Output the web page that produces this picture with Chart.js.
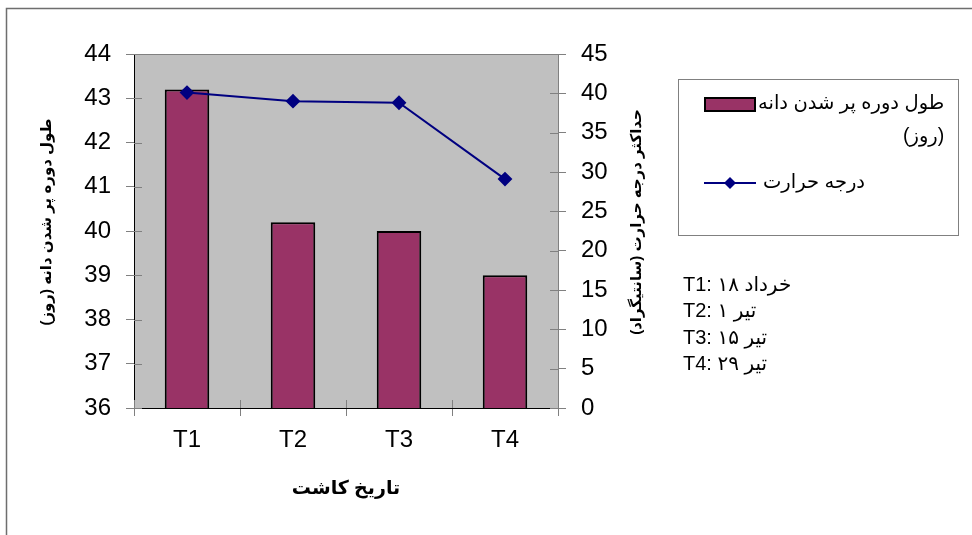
<!DOCTYPE html>
<html>
<head>
<meta charset="utf-8">
<script src="https://cdn.jsdelivr.net/npm/chart.js@4.4.1/dist/chart.umd.min.js"></script>
<style>
html,body{margin:0;padding:0;background:#fff;}
#wrap{width:972px;height:535px;position:relative;}
</style>
</head>
<body>
<div id="wrap"><canvas id="c" width="972" height="535"></canvas></div>
<script>
// ---- data ----
const categories = ['T1', 'T2', 'T3', 'T4'];
const grainFillDays = [43.2, 40.2, 40.0, 39.0];      // left axis (bars)
const maxTemperature = [40.1, 39.0, 38.8, 29.1];     // right axis (line)
const leftAxisRange = [36, 44, 1];                   // min, max, step
const rightAxisRange = [0, 45, 5];
const barLabelLines = ['طول دوره پر شدن دانه', '(روز)'];
const lineLabel = 'درجه حرارت';
const leftTitle = 'طول دوره پر شدن دانه (روز)';
const rightTitle = 'حداکثر درجه حرارت (سانتیگراد)';
const xTitle = 'تاریخ کاشت';
const dateNotes = ['T1: خرداد ۱۸', 'T2: تیر ۱', 'T3: تیر ۱۵', 'T4: تیر ۲۹'];

const FONT = '"Liberation Sans", Arial, "DejaVu Sans", sans-serif';
const BAR_COLOR = '#993366';
const LINE_COLOR = '#000080';

const decor = {
  id: 'decor',
  beforeDraw(chart) {
    const ctx = chart.ctx, a = chart.chartArea;
    ctx.save();
    ctx.fillStyle = '#fff';
    ctx.fillRect(0, 0, chart.width, chart.height);
    // outer frame
    ctx.strokeStyle = '#6e6e6e';
    ctx.lineWidth = 1.5;
    ctx.beginPath();
    ctx.moveTo(6.5, 535); ctx.lineTo(6.5, 8.5); ctx.lineTo(972, 8.5);
    ctx.stroke();
    // plot area
    ctx.fillStyle = '#c0c0c0';
    ctx.fillRect(a.left, a.top, a.right - a.left, a.bottom - a.top);
    ctx.strokeStyle = '#808080';
    ctx.lineWidth = 1;
    ctx.beginPath();
    ctx.moveTo(a.left, a.top + 0.5); ctx.lineTo(a.right, a.top + 0.5);
    ctx.stroke();
    ctx.restore();
  },
  afterDatasetsDraw(chart) {
    const ctx = chart.ctx, a = chart.chartArea;
    ctx.save();
    ctx.strokeStyle = '#808080';
    ctx.lineWidth = 1;
    // inward halves of tick marks
    const y = chart.scales.y, y1 = chart.scales.y1, x = chart.scales.x;
    ctx.beginPath();
    y.ticks.forEach((t, i) => { const p = Math.round(y.getPixelForTick(i)) + 0.5; ctx.moveTo(a.left, p); ctx.lineTo(a.left + 8, p); });
    y1.ticks.forEach((t, i) => { const p = Math.round(y1.getPixelForTick(i)) + 0.5; ctx.moveTo(a.right, p); ctx.lineTo(a.right - 8, p); });
    for (let i = 0; i <= categories.length; i++) {
      const p = Math.round(x.getPixelForValue(i - 0.5)) + 0.5;
      ctx.moveTo(p, a.bottom); ctx.lineTo(p, a.bottom - 8);
    }
    ctx.stroke();
    ctx.restore();
  },
  afterDraw(chart) {
    const ctx = chart.ctx;
    ctx.save();
    ctx.fillStyle = '#000';
    ctx.textBaseline = 'middle';
    ctx.textAlign = 'center';
    ctx.direction = 'rtl';
    // axis titles
    ctx.font = 'bold 15px ' + FONT;
    [[47, 222, leftTitle], [637, 222, rightTitle]].forEach(([cx, cy, t]) => {
      ctx.save(); ctx.translate(cx, cy); ctx.rotate(-Math.PI / 2); ctx.fillText(t, 0, 0); ctx.restore();
    });
    ctx.font = 'bold 19px ' + FONT;
    ctx.fillText(xTitle, 346, 489);

    // legend box
    ctx.strokeStyle = '#808080';
    ctx.lineWidth = 1;
    ctx.strokeRect(678.5, 79.5, 280, 156);
    // bar swatch
    ctx.fillStyle = BAR_COLOR;
    ctx.fillRect(705, 98, 50, 13);
    ctx.strokeStyle = '#000'; ctx.lineWidth = 2;
    ctx.strokeRect(705, 98, 50, 13);
    ctx.fillStyle = '#000';
    ctx.font = '19.5px ' + FONT;
    ctx.direction = 'rtl';
    ctx.textAlign = 'left';
    const w1 = ctx.measureText(barLabelLines[0]).width;
    ctx.fillText(barLabelLines[0], 758, 104);
    ctx.textAlign = 'right';
    ctx.fillText(barLabelLines[1], 758 + w1, 137);
    // line swatch
    ctx.strokeStyle = LINE_COLOR; ctx.lineWidth = 2;
    ctx.beginPath(); ctx.moveTo(704, 183); ctx.lineTo(756, 183); ctx.stroke();
    ctx.fillStyle = LINE_COLOR;
    ctx.beginPath(); ctx.moveTo(730, 177); ctx.lineTo(736, 183); ctx.lineTo(730, 189); ctx.lineTo(724, 183); ctx.closePath(); ctx.fill();
    ctx.fillStyle = '#000';
    ctx.textAlign = 'left';
    ctx.fillText(lineLabel, 763, 183);

    // date notes
    ctx.font = '20px ' + FONT;
    ctx.direction = 'ltr';
    ctx.textAlign = 'left';
    dateNotes.forEach((t, i) => ctx.fillText(t, 683, 285 + i * 26.5));
    ctx.restore();
  }
};

new Chart(document.getElementById('c'), {
  data: {
    labels: categories,
    datasets: [
      {
        type: 'line',
        label: lineLabel,
        data: maxTemperature,
        yAxisID: 'y1',
        borderColor: LINE_COLOR,
        backgroundColor: LINE_COLOR,
        borderWidth: 2,
        pointStyle: 'rectRot',
        pointRadius: 6,
        pointHoverRadius: 6,
        tension: 0,
        order: 0
      },
      {
        type: 'bar',
        label: barLabelLines.join(' '),
        data: grainFillDays,
        yAxisID: 'y',
        backgroundColor: BAR_COLOR,
        borderColor: '#000',
        borderWidth: 2,
        borderSkipped: false,
        categoryPercentage: 1,
        barPercentage: 0.42,
        order: 1
      }
    ]
  },
  options: {
    responsive: false,
    animation: false,
    events: [],
    layout: { padding: { left: 0, top: 54, right: 314, bottom: 67 } },
    plugins: { legend: { display: false }, tooltip: { enabled: false } },
    scales: {
      x: {
        offset: true,
        grid: { offset: true, drawOnChartArea: false, tickLength: 8, color: '#808080' },
        border: { color: '#000', width: 1 },
        ticks: { color: '#000', font: { family: FONT, size: 24 }, padding: 10 },
        afterFit(s) { s.height = 60; }
      },
      y: {
        position: 'left',
        min: leftAxisRange[0], max: leftAxisRange[1],
        ticks: { stepSize: leftAxisRange[2], color: '#000', font: { family: FONT, size: 24 }, padding: 15 },
        grid: { drawOnChartArea: false, tickLength: 8, color: '#808080' },
        border: { color: '#000', width: 1 },
        afterFit(s) { s.width = 134; }
      },
      y1: {
        position: 'right',
        min: rightAxisRange[0], max: rightAxisRange[1],
        ticks: { stepSize: rightAxisRange[2], color: '#000', font: { family: FONT, size: 24 }, padding: 15 },
        grid: { drawOnChartArea: false, tickLength: 8, color: '#808080' },
        border: { color: '#808080', width: 1 },
        afterFit(s) { s.width = 100; }
      }
    }
  },
  plugins: [decor]
});
</script>
</body>
</html>
